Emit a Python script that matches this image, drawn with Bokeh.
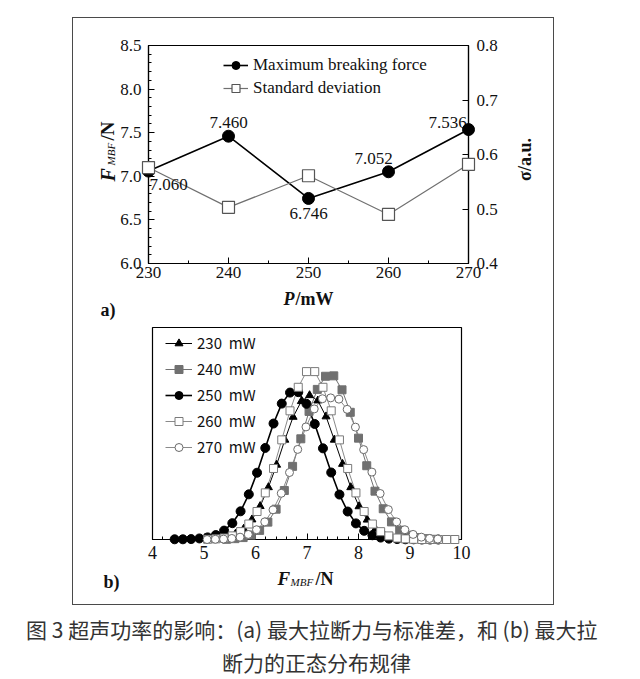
import math
from bokeh.core.properties import value
from bokeh.plotting import figure
from bokeh.models import (Range1d, LinearAxis, SingleIntervalTicker, PrintfTickFormatter,
                          Label, Legend, LegendItem)
from bokeh.layouts import column
from bokeh.embed import file_html
from bokeh.resources import INLINE

SERIF = "Liberation Serif"
CJK = "Noto Sans CJK SC"

# ---------------- data: panel (a) ----------------
power_mw = [230, 240, 250, 260, 270]
max_breaking_force = [7.060, 7.460, 6.746, 7.052, 7.536]
std_deviation = [0.576, 0.503, 0.561, 0.490, 0.582]
legend_a = ["Maximum breaking force", "Standard deviation"]

# ---------------- data: panel (b) ----------------
x_230 = [5.13, 5.29, 5.45, 5.61, 5.77, 5.93, 6.09, 6.25, 6.41, 6.57, 6.73, 6.89, 7.05,
         7.21, 7.37, 7.53, 7.69, 7.85, 8.01, 8.17, 8.33, 8.49, 8.65, 8.81, 8.97]
y_230 = [0.002, 0.005, 0.011, 0.026, 0.050, 0.094, 0.157, 0.246, 0.352, 0.470, 0.578, 0.652, 0.680,
         0.655, 0.580, 0.470, 0.356, 0.246, 0.156, 0.093, 0.050, 0.025, 0.011, 0.005, 0.002]

x_240 = [5.44, 5.60, 5.76, 5.92, 6.08, 6.24, 6.40, 6.56, 6.72, 6.88, 7.04, 7.20, 7.36,
         7.52, 7.68, 7.84, 8.00, 8.16, 8.32, 8.48, 8.64, 8.80, 8.96, 9.12, 9.28, 9.44]
y_240 = [0.001, 0.004, 0.009, 0.021, 0.043, 0.082, 0.143, 0.231, 0.345, 0.475, 0.604, 0.708, 0.770,
         0.772, 0.706, 0.600, 0.478, 0.348, 0.228, 0.145, 0.083, 0.044, 0.020, 0.009, 0.004, 0.001]

x_250 = [4.43, 4.59, 4.75, 4.91, 5.07, 5.23, 5.39, 5.55, 5.71, 5.87, 6.03, 6.19, 6.35, 6.51, 6.67,
         6.83, 6.99, 7.15, 7.31, 7.47, 7.63, 7.79, 7.95, 8.11, 8.27, 8.43, 8.59, 8.75, 8.91, 9.07,
         9.23, 9.39, 9.55]
y_250 = [0.001, 0.001, 0.002, 0.005, 0.010, 0.021, 0.042, 0.077, 0.133, 0.213, 0.315, 0.432, 0.547,
         0.641, 0.693, 0.695, 0.640, 0.545, 0.430, 0.316, 0.212, 0.132, 0.076, 0.041, 0.020, 0.009,
         0.004, 0.002, 0.001, 0.001, 0.0, 0.0, 0.0]

x_260 = [5.07, 5.23, 5.39, 5.55, 5.71, 5.87, 6.03, 6.19, 6.35, 6.51, 6.67, 6.83, 6.99, 7.15, 7.31,
         7.47, 7.63, 7.79, 7.95, 8.11, 8.27, 8.43, 8.59, 8.75, 8.91, 9.07, 9.23, 9.39, 9.55, 9.71, 9.87]
y_260 = [0.001, 0.003, 0.007, 0.017, 0.037, 0.073, 0.132, 0.220, 0.335, 0.470, 0.607, 0.718, 0.792,
         0.792, 0.718, 0.607, 0.470, 0.335, 0.220, 0.132, 0.073, 0.037, 0.017, 0.007, 0.003, 0.001,
         0.0, 0.0, 0.0, 0.0, 0.0]

x_270 = [5.06, 5.22, 5.38, 5.54, 5.70, 5.86, 6.02, 6.18, 6.34, 6.50, 6.66, 6.82, 6.98, 7.14, 7.30,
         7.46, 7.62, 7.78, 7.94, 8.10, 8.26, 8.42, 8.58, 8.74, 8.90, 9.06, 9.22, 9.38, 9.54]
y_270 = [0.0, 0.001, 0.002, 0.005, 0.011, 0.024, 0.046, 0.083, 0.140, 0.218, 0.316, 0.425, 0.531,
         0.616, 0.664, 0.668, 0.662, 0.614, 0.530, 0.424, 0.318, 0.217, 0.141, 0.083, 0.046, 0.024,
         0.011, 0.005, 0.002]

series_b_labels = ["230  mW", "240  mW", "250  mW", "260  mW", "270  mW"]

caption_line1 = "图 3   超声功率的影响：(a) 最大拉断力与标准差，和 (b) 最大拉"
caption_line2 = "断力的正态分布规律"

# ---------------- helpers ----------------
def style_axis(ax, font_size, standoff, minor=True):
    ax.axis_line_color = "black"
    ax.axis_line_width = 1.2
    ax.major_tick_in = 6
    ax.major_tick_out = 0
    ax.minor_tick_in = 3 if minor else 0
    ax.minor_tick_out = 0
    ax.major_tick_line_color = "black"
    ax.minor_tick_line_color = "black"
    ax.major_label_text_font = SERIF
    ax.major_label_text_font_size = font_size
    ax.major_label_text_color = "#111111"
    ax.major_label_standoff = standoff


def put_text(p, x, y, text, size, style="normal", angle=0.0, align="left",
             baseline="alphabetic", font=SERIF, color="#111111", **kw):
    # overlay-level text glyph: not clipped to the plot frame
    p.text(x=[x], y=[y], text=[text], text_font=value(font), text_font_size=value(size),
           text_font_style=value(style), angle=angle, text_align=value(align),
           text_baseline=value(baseline), text_color=color, level="overlay", **kw)


# ---------------- panel (a) ----------------
# frame (page px): x 148..468, y 45..263 ; canvas starts at page (73, 18)
fa = figure(width=480, height=302, x_range=Range1d(230, 270), y_range=Range1d(6.0, 8.5),
            output_backend="svg", toolbar_location=None,
            min_border_left=75, min_border_right=85, min_border_top=27, min_border_bottom=57,
            background_fill_color="white", border_fill_color="white")
fa.grid.visible = False
fa.outline_line_color = "black"
fa.outline_line_width = 1.2

fa.xaxis.ticker = SingleIntervalTicker(interval=10, num_minor_ticks=2)
fa.yaxis.ticker = SingleIntervalTicker(interval=0.5, num_minor_ticks=5)
fa.yaxis.formatter = PrintfTickFormatter(format="%.1f")
style_axis(fa.xaxis[0], "17px", 3)
style_axis(fa.yaxis[0], "17px", 7)

fa.extra_y_ranges = {"sd": Range1d(0.4, 0.8)}
ax_r = LinearAxis(y_range_name="sd", ticker=SingleIntervalTicker(interval=0.1, num_minor_ticks=0),
                  formatter=PrintfTickFormatter(format="%.1f"))
style_axis(ax_r, "17px", 8, minor=False)
fa.add_layout(ax_r, "right")

l1 = fa.line(power_mw, max_breaking_force, line_color="black", line_width=1.6)
m1 = fa.scatter(power_mw, max_breaking_force, marker="circle", size=12,
                fill_color="black", line_color="black", level="overlay")
l2 = fa.line(power_mw, std_deviation, y_range_name="sd", line_color="#707070", line_width=1.2)
m2 = fa.scatter(power_mw, std_deviation, y_range_name="sd", marker="square", size=12,
                fill_color="white", line_color="#555555", line_width=1.2, level="overlay")

leg_a = Legend(items=[LegendItem(label=legend_a[0], renderers=[l1, m1]),
                      LegendItem(label=legend_a[1], renderers=[l2, m2])],
               location=(75, 165), orientation="vertical",
               glyph_width=25, glyph_height=20, label_height=20, spacing=3,
               label_standoff=5, padding=0, margin=0,
               border_line_color=None, background_fill_alpha=0.0,
               label_text_font=SERIF, label_text_font_size="17px", label_text_color="#111111")
fa.add_layout(leg_a)

val_offsets = [(20, -13), (0, 14), (0, -15), (-15, 13), (-21, 7)]
for pw, fv, (dx, dy) in zip(power_mw, max_breaking_force, val_offsets):
    fa.add_layout(Label(x=pw, y=fv, x_offset=dx, y_offset=dy, text=f"{fv:.3f}",
                        text_align="center", text_baseline="middle", text_font=SERIF,
                        text_font_size="17px", text_color="#111111"))

def ax_(X):
    return 230 + (X - 148) / 320 * 40

def ay_(Y):
    return 6.0 + (263 - Y) / 218 * 2.5

put_text(fa, ax_(107), ay_(181), "F", "20px", "bold italic", angle=math.pi / 2)
put_text(fa, ax_(110), ay_(165), "MBF", "11px", "italic", angle=math.pi / 2)
put_text(fa, ax_(107), ay_(140), "/N", "19px", "bold", angle=math.pi / 2)
put_text(fa, ax_(524), ay_(159), "σ/a.u.", "18px", "bold", angle=math.pi / 2,
         align="center", baseline="middle")
put_text(fa, ax_(283), ay_(298), "P", "18px", "bold italic")
put_text(fa, ax_(295), ay_(298), "/mW", "18px", "bold")
put_text(fa, ax_(100), ay_(309), "a)", "18px", "bold")

# ---------------- panel (b) ----------------
# frame (page px): x 152..461, y 327..539 ; canvas starts at page (77, 320)
fb = figure(width=469, height=284, x_range=Range1d(4, 10), y_range=Range1d(0, 1),
            output_backend="svg", toolbar_location=None,
            min_border_left=75, min_border_right=85, min_border_top=7, min_border_bottom=65,
            background_fill_color="white", border_fill_color="white",
            margin=(0, 0, 0, 4))
fb.grid.visible = False
fb.outline_line_color = "black"
fb.outline_line_width = 1.2
fb.yaxis.visible = False
fb.xaxis.ticker = SingleIntervalTicker(interval=1, num_minor_ticks=5)
style_axis(fb.xaxis[0], "18px", 6)

series = [
    (x_230, y_230, dict(marker="triangle", size=8, fill_color="black", line_color="black"),
     dict(line_color="black", line_width=1.0)),
    (x_240, y_240, dict(marker="square", size=8, fill_color="#707070", line_color="#707070"),
     dict(line_color="#707070", line_width=1.0)),
    (x_250, y_250, dict(marker="circle", size=9, fill_color="black", line_color="black"),
     dict(line_color="black", line_width=1.6)),
    (x_260, y_260, dict(marker="square", size=8, fill_color="white", line_color="#7a7a7a"),
     dict(line_color="#8a8a8a", line_width=1.0)),
    (x_270, y_270, dict(marker="circle", size=8, fill_color="white", line_color="#6a6a6a"),
     dict(line_color="#8a8a8a", line_width=1.0)),
]
items_b = []
for (xs, ys, mk, ln), lab in zip(series, series_b_labels):
    r_l = fb.line(xs, ys, **ln)
    r_m = fb.scatter(xs, ys, level="overlay", **mk)
    items_b.append(LegendItem(label=lab, renderers=[r_l, r_m]))

leg_b = Legend(items=items_b, location=(13, 82), orientation="vertical",
               glyph_width=27, glyph_height=20, label_height=20, spacing=5,
               label_standoff=5, padding=0, margin=0,
               border_line_color=None, background_fill_alpha=0.0,
               label_text_font=CJK, label_text_font_size="15px", label_text_color="#111111")
fb.add_layout(leg_b)

def bx_(X):
    return 4 + (X - 152) / 309 * 6

def by_(Y):
    return (539 - Y) / 212

put_text(fb, bx_(277), by_(578), "F", "19px", "bold italic")
put_text(fb, bx_(290), by_(581), "MBF", "11px", "italic")
put_text(fb, bx_(315), by_(578), "/N", "18px", "bold")
put_text(fb, bx_(103), by_(581), "b)", "18px", "bold")

# ---------------- caption ----------------
cap = figure(width=624, height=70, x_range=Range1d(0, 624), y_range=Range1d(70, 0),
             x_axis_type=None, y_axis_type=None, output_backend="svg", toolbar_location=None,
             min_border=0, background_fill_color="white", border_fill_color="white")
cap.outline_line_color = None
cap.add_layout(Label(x=316, y=23, text=caption_line1, text_font=CJK, text_font_size="21px",
                     text_align="center", text_baseline="middle", text_color="#333333"))
cap.add_layout(Label(x=316, y=56, text=caption_line2, text_font=CJK, text_font_size="21px",
                     text_align="center", text_baseline="middle", text_color="#333333"))

inner = column(fa, fb, margin=(17, 0, 0, 72), styles={"border": "1px solid #4a4a4a"})
page = column(inner, cap)

open("out.html", "w").write(file_html(page, INLINE))
